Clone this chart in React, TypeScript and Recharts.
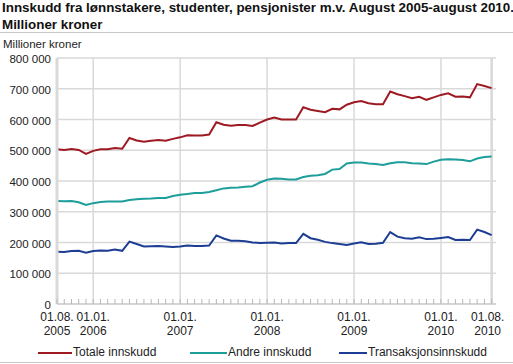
import { CartesianGrid, Line, LineChart, ReferenceLine, XAxis, YAxis } from "recharts";

// Monthly figures, Aug 2005 - Aug 2010, million NOK
const MONTHS = [
  "2005-08", "2005-09", "2005-10", "2005-11", "2005-12",
  "2006-01", "2006-02", "2006-03", "2006-04", "2006-05", "2006-06",
  "2006-07", "2006-08", "2006-09", "2006-10", "2006-11", "2006-12",
  "2007-01", "2007-02", "2007-03", "2007-04", "2007-05", "2007-06",
  "2007-07", "2007-08", "2007-09", "2007-10", "2007-11", "2007-12",
  "2008-01", "2008-02", "2008-03", "2008-04", "2008-05", "2008-06",
  "2008-07", "2008-08", "2008-09", "2008-10", "2008-11", "2008-12",
  "2009-01", "2009-02", "2009-03", "2009-04", "2009-05", "2009-06",
  "2009-07", "2009-08", "2009-09", "2009-10", "2009-11", "2009-12",
  "2010-01", "2010-02", "2010-03", "2010-04", "2010-05", "2010-06",
  "2010-07", "2010-08",
];

const TOTALE = [
  503000, 501000, 504000, 501000, 488000, 498000, 503000, 503000, 507000, 505000,
  540000, 532000, 528000, 531000, 533000, 531000, 537000, 542000, 549000, 548000,
  548000, 551000, 591000, 583000, 580000, 582000, 582000, 579000, 590000, 600000,
  606000, 600000, 600000, 600000, 640000, 632000, 628000, 624000, 635000, 633000,
  648000, 656000, 660000, 653000, 650000, 650000, 691000, 682000, 676000, 669000,
  674000, 664000, 672000, 680000, 685000, 674000, 675000, 672000, 715000, 709000, 702000,
];

const ANDRE = [
  335000, 334000, 335000, 331000, 322000, 328000, 332000, 333000, 333000, 333000,
  338000, 341000, 342000, 343000, 345000, 345000, 351000, 355000, 358000, 361000,
  361000, 364000, 370000, 376000, 378000, 379000, 381000, 383000, 395000, 404000,
  408000, 407000, 405000, 405000, 413000, 417000, 419000, 423000, 437000, 439000,
  457000, 460000, 460000, 457000, 455000, 452000, 458000, 461000, 461000, 458000,
  457000, 455000, 463000, 469000, 471000, 470000, 468000, 464000, 473000, 478000, 480000,
];

const TRANSAKSJON = [
  170000, 169000, 172000, 173000, 167000, 172000, 174000, 173000, 177000, 173000,
  203000, 195000, 187000, 188000, 189000, 187000, 185000, 187000, 190000, 189000,
  189000, 190000, 223000, 213000, 206000, 206000, 204000, 200000, 198000, 199000,
  200000, 197000, 198000, 198000, 228000, 214000, 209000, 202000, 198000, 195000,
  192000, 197000, 201000, 195000, 196000, 199000, 234000, 219000, 214000, 212000,
  217000, 211000, 212000, 215000, 218000, 208000, 209000, 208000, 242000, 234000, 224000,
];

const X_MAJOR = [0, 5, 17, 29, 41, 53, 60];
const X_LABELS = [
  ["01.08.", "2005"],
  ["01.01.", "2006"],
  ["01.01.", "2007"],
  ["01.01.", "2008"],
  ["01.01.", "2009"],
  ["01.01.", "2010"],
  ["01.08.", "2010"],
];
const Y_TICKS = [0, 100000, 200000, 300000, 400000, 500000, 600000, 700000, 800000];

const RED = "#9e1a23";
const TEAL = "#1e9e9a";
const BLUE = "#1c3d93";
const GRID = "#d9d9d9";
const FONT = "'Liberation Sans', Arial, sans-serif";

const rows = MONTHS.map((month, i) => ({
  idx: i,
  month,
  totale: TOTALE[i],
  andre: ANDRE[i],
  trans: TRANSAKSJON[i],
}));

const fmt = (v: number) => String(v).replace(/\B(?=(\d{3})+(?!\d))/g, " ");

function MonthTick({ x, y, payload }: any) {
  const k = X_MAJOR.indexOf(payload.value);
  const last = payload.value === MONTHS.length - 1;
  const tx = last ? x - 4 : x;
  return (
    <g>
      <line x1={x} x2={x} y1={y} y2={y - 5} stroke="#b8b8b8" strokeWidth={1} />
      {k >= 0 && (
        <text textAnchor="middle" fontSize={12} fill="#222" fontFamily={FONT}>
          <tspan x={tx} y={y + 17}>{X_LABELS[k][0]}</tspan>
          <tspan x={tx} y={y + 31}>{X_LABELS[k][1]}</tspan>
        </text>
      )}
    </g>
  );
}

const LEGEND = [
  { label: "Totale innskudd", color: RED, x: 38, w: 34 },
  { label: "Andre innskudd", color: TEAL, x: 190, w: 37 },
  { label: "Transaksjonsinnskudd", color: BLUE, x: 339, w: 28 },
];

export default function App() {
  return (
    <div
      style={{
        position: "absolute",
        left: 0,
        top: 0,
        width: 513,
        height: 364,
        background: "#fff",
        fontFamily: FONT,
        color: "#111",
        overflow: "hidden",
      }}
    >
      <div
        style={{
          position: "absolute",
          left: 2,
          top: -1.5,
          fontSize: 13.4,
          fontWeight: "bold",
          lineHeight: "17px",
          whiteSpace: "nowrap",
        }}
      >
        Innskudd fra lønnstakere, studenter, pensjonister m.v. August 2005-august 2010.
        <br />
        Millioner kroner
      </div>
      <div style={{ position: "absolute", left: 0, top: 32, width: 513, height: 1, background: "#c8c8c8" }} />
      <div style={{ position: "absolute", left: 3, top: 37.5, fontSize: 11.5, lineHeight: "13px", color: "#222" }}>
        Millioner kroner
      </div>

      <div style={{ position: "absolute", left: 0, top: 0 }}>
        <LineChart width={513} height={364} data={rows} margin={{ top: 58, right: 17, bottom: 20, left: 0 }}>
          <CartesianGrid vertical={false} stroke={GRID} strokeWidth={1.5} />
          <XAxis
            dataKey="idx"
            type="number"
            domain={[0, 60.6]}
            ticks={MONTHS.map((_, i) => i)}
            interval={0}
            height={40}
            tickSize={0}
            tickMargin={0}
            tickLine={false}
            axisLine={{ stroke: "#cfcfcf", strokeWidth: 1.5 }}
            tick={<MonthTick />}
          />
          <YAxis
            width={57}
            domain={[0, 800000]}
            ticks={Y_TICKS}
            tickFormatter={fmt}
            tickLine={false}
            tickSize={0}
            tickMargin={6}
            axisLine={{ stroke: GRID, strokeWidth: 3 }}
            tick={{ fontSize: 11.5, fill: "#222", fontFamily: FONT, dy: 1 }}
          />
          {X_MAJOR.slice(1, -1).map((v) => (
            <ReferenceLine key={v} x={v} stroke={GRID} strokeWidth={1.5} />
          ))}
          <ReferenceLine x={MONTHS.length - 1} stroke={GRID} strokeWidth={2.5} />
          <Line dataKey="totale" stroke={RED} strokeWidth={2} dot={false} isAnimationActive={false} />
          <Line dataKey="andre" stroke={TEAL} strokeWidth={2} dot={false} isAnimationActive={false} />
          <Line dataKey="trans" stroke={BLUE} strokeWidth={2} dot={false} isAnimationActive={false} />
        </LineChart>
      </div>

      {LEGEND.map((item) => (
        <div key={item.label}>
          <div
            style={{
              position: "absolute",
              left: item.x,
              top: 351.5,
              width: item.w,
              height: 2,
              background: item.color,
            }}
          />
          <div
            style={{
              position: "absolute",
              left: item.x + item.w + 1,
              top: 345.3,
              fontSize: 12,
              lineHeight: "14px",
              color: "#222",
              whiteSpace: "nowrap",
            }}
          >
            {item.label}
          </div>
        </div>
      ))}
      <div style={{ position: "absolute", left: 0, top: 362, width: 513, height: 1, background: "#c8c8c8" }} />
    </div>
  );
}
